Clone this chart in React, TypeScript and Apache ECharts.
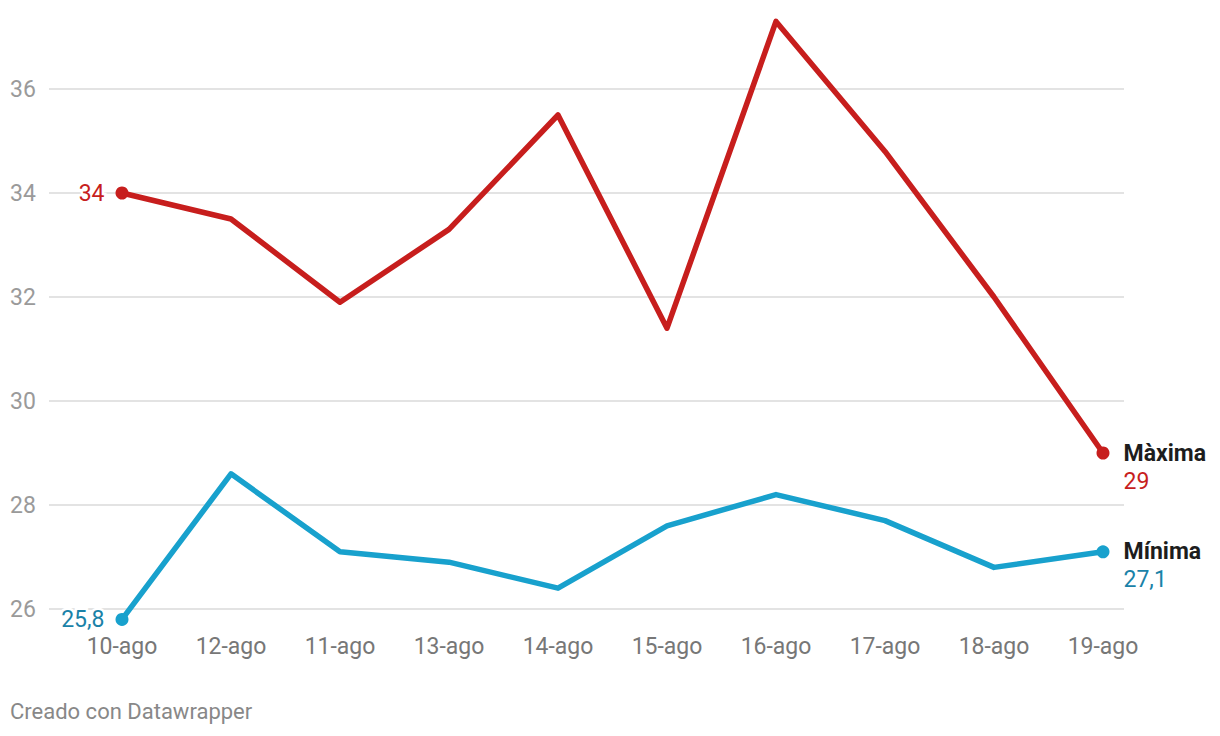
import React, { useEffect, useRef } from "react";
import * as echarts from "echarts";

const categories = ["10-ago", "12-ago", "11-ago", "13-ago", "14-ago", "15-ago", "16-ago", "17-ago", "18-ago", "19-ago"];
const maxima = [34, 33.5, 31.9, 33.3, 35.5, 31.4, 37.3, 34.8, 32, 29];
const minima = [25.8, 28.6, 27.1, 26.9, 26.4, 27.6, 28.2, 27.7, 26.8, 27.1];
const yTicks = [26, 28, 30, 32, 34, 36];
const seriesNames = ["Màxima", "Mínima"];
const xIndex = categories.map((_, i) => i);

const RED = "#c71e1d";
const BLUE = "#18a1cd";
const BLUE_TEXT = "#1a82a8";
const FONT = "Roboto";
const FS = 23;

const fmt = (v: number) => String(v).replace(".", ",");

function buildData(vals: number[], name: string, labelColor: string) {
  const last = vals.length - 1;
  return vals.map((v, i) => {
    if (i === 0) {
      return {
        value: [i, v],
        symbol: "circle",
        symbolSize: 13,
        label: {
          show: true,
          position: "left",
          distance: 11,
          formatter: fmt(v),
          color: labelColor,
          fontSize: FS,
          fontFamily: FONT,
          textBorderColor: "#ffffff",
          textBorderWidth: 5,
        },
      };
    }
    if (i === last) {
      return {
        value: [i, v],
        symbol: "circle",
        symbolSize: 13,
        label: {
          show: true,
          position: "right",
          distance: 14,
          offset: [0, 14],
          formatter: `{n|${name}}\n{v|${fmt(v)}}`,
          rich: {
            n: { fontSize: FS, fontWeight: "bold", color: "#1d1d1d", lineHeight: 28, fontFamily: FONT },
            v: { fontSize: FS, color: labelColor, lineHeight: 28, fontFamily: FONT },
          },
        },
      };
    }
    return { value: [i, v], symbol: "none" };
  });
}

export default function App() {
  const ref = useRef<HTMLDivElement>(null);
  useEffect(() => {
    if (!ref.current) return;
    const chart = echarts.init(ref.current, undefined, { renderer: "svg" });
    const option: any = {
      animation: false,
      backgroundColor: "#ffffff",
      textStyle: { fontFamily: FONT },
      grid: { left: 49, right: 96, top: 11, bottom: 101, containLabel: false },
      xAxis: {
        type: "value",
        min: -73 / 109,
        max: 9 + 21 / 109,
        axisLine: { show: false },
        axisTick: { show: false, customValues: xIndex },
        splitLine: { show: false },
        axisLabel: {
          customValues: xIndex,
          formatter: (v: number) => categories[Math.round(v)] ?? "",
          color: "#777777",
          fontSize: FS,
          fontFamily: FONT,
          margin: 0,
        },
      },
      yAxis: {
        type: "value",
        min: 25.5,
        max: 37.5,
        axisLine: { show: false },
        axisTick: { show: false, customValues: yTicks },
        splitLine: { show: true, lineStyle: { color: "#e3e3e3", width: 2 } },
        axisLabel: {
          customValues: yTicks,
          align: "left",
          margin: 39,
          color: "#9a9a9a",
          fontSize: FS,
          fontFamily: FONT,
        },
      },
      graphic: [
        {
          type: "text",
          left: 10,
          top: 700,
          style: { text: "Creado con Datawrapper", fill: "#888888", fontSize: 22, fontFamily: FONT },
        },
      ],
      series: [
        {
          name: seriesNames[0],
          type: "line",
          data: buildData(maxima, seriesNames[0], RED),
          lineStyle: { color: RED, width: 5.5, join: "round", cap: "round" },
          itemStyle: { color: RED },
          showSymbol: true,
          z: 3,
        },
        {
          name: seriesNames[1],
          type: "line",
          data: buildData(minima, seriesNames[1], BLUE_TEXT),
          lineStyle: { color: BLUE, width: 5.5, join: "round", cap: "round" },
          itemStyle: { color: BLUE },
          showSymbol: true,
          z: 3,
        },
      ],
    };
    chart.setOption(option);
    return () => chart.dispose();
  }, []);
  return (
    <div
      ref={ref}
      style={{ position: "fixed", left: 0, top: 0, width: 1220, height: 736, background: "#fff" }}
    />
  );
}
